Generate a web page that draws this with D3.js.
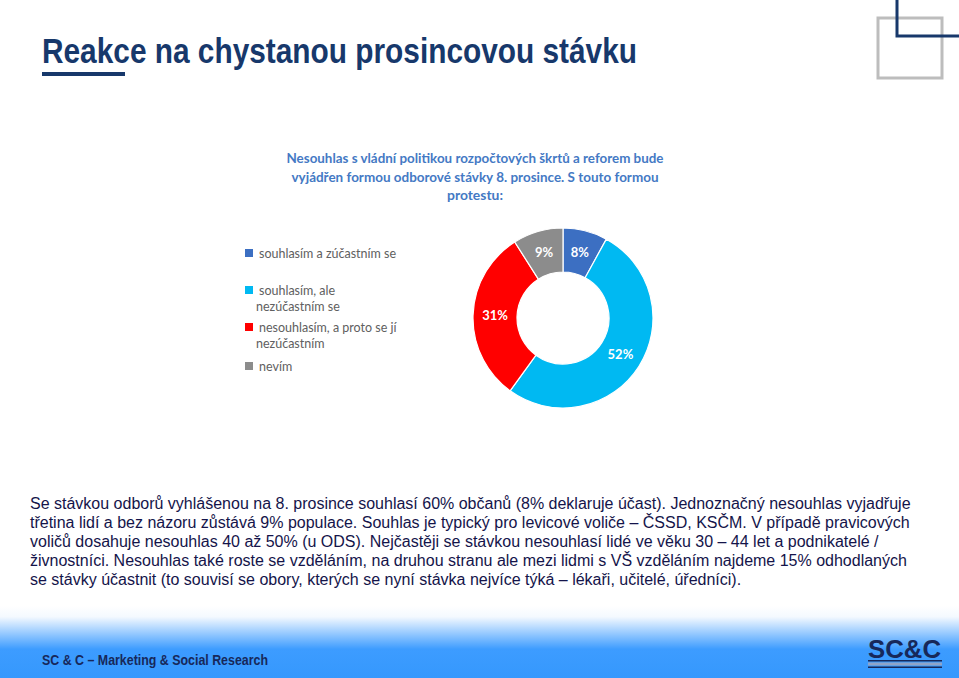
<!DOCTYPE html>
<html>
<head>
<meta charset="utf-8">
<script src="https://cdn.jsdelivr.net/npm/d3@7"></script>
<style>
  body { margin: 0; background: #fff; }
  svg { display: block; }
</style>
</head>
<body>
<svg id="slide"></svg>
<script>
var categories = ["souhlasím a zúčastním se", "souhlasím, ale nezúčastním se", "nesouhlasím, a proto se jí nezúčastním", "nevím"];
var legendLines = [["souhlasím a zúčastním se"], ["souhlasím, ale", "nezúčastním se"], ["nesouhlasím, a proto se jí", "nezúčastním"], ["nevím"]];
var values = [8, 52, 31, 9];
var palette = ["#3c6fc2", "#00b9f2", "#ff0000", "#8c8c8c"];
var chartTitle = ["Nesouhlas s vládní politikou rozpočtových škrtů a reforem bude", "vyjádřen formou odborové stávky 8. prosince. S touto formou", "protestu:"];
var bodyText = [
  "Se stávkou odborů vyhlášenou na 8. prosince souhlasí 60% občanů (8% deklaruje účast). Jednoznačný nesouhlas vyjadřuje",
  "třetina lidí a bez názoru zůstává 9% populace. Souhlas je typický pro levicové voliče – ČSSD, KSČM. V případě pravicových",
  "voličů dosahuje nesouhlas 40 až 50% (u ODS). Nejčastěji se stávkou nesouhlasí lidé ve věku 30 – 44 let a podnikatelé /",
  "živnostníci. Nesouhlas také roste se vzděláním, na druhou stranu ale mezi lidmi s VŠ vzděláním najdeme 15% odhodlaných",
  "se stávky účastnit (to souvisí se obory, kterých se nyní stávka nejvíce týká – lékaři, učitelé, úředníci)."
];

var width = 959, height = 678;
var svg = d3.select("#slide").attr("width", width).attr("height", height);

var defs = svg.append("defs");
var grad = defs.append("linearGradient").attr("id", "foot").attr("x1", 0).attr("y1", 0).attr("x2", 0).attr("y2", 1);
grad.append("stop").attr("offset", "0%").attr("stop-color", "#ffffff");
grad.append("stop").attr("offset", "15%").attr("stop-color", "#f4f9ff");
grad.append("stop").attr("offset", "60%").attr("stop-color", "#3d9cff");
grad.append("stop").attr("offset", "100%").attr("stop-color", "#3598fd");

// footer band
svg.append("rect").attr("x", 0).attr("y", 606).attr("width", width).attr("height", 72).attr("fill", "url(#foot)");

// top-right decoration
svg.append("rect").attr("x", 878).attr("y", 18).attr("width", 64).attr("height", 60)
   .attr("fill", "none").attr("stroke", "#bdbdbd").attr("stroke-width", 3);
svg.append("path").attr("d", "M897,0 V36 H959")
   .attr("fill", "none").attr("stroke", "#17386b").attr("stroke-width", 3);

// slide title
svg.append("text").attr("x", 42).attr("y", 63)
   .attr("font-family", "'Liberation Sans Narrow', 'Arial Narrow', 'Liberation Sans', sans-serif")
   .attr("font-weight", "bold").attr("font-size", 35).attr("fill", "#17386b")
   .attr("textLength", 595).attr("lengthAdjust", "spacingAndGlyphs")
   .text("Reakce na chystanou prosincovou stávku");
svg.append("rect").attr("x", 42).attr("y", 72).attr("width", 83).attr("height", 4).attr("fill", "#17386b");

// chart title
var titleWidths = [377, 367, 56];
svg.append("g").selectAll("text").data(chartTitle).enter().append("text")
   .attr("x", 475).attr("y", function(d, i) { return 163 + i * 18.5; })
   .attr("text-anchor", "middle")
   .attr("font-family", "Lato, 'Open Sans', sans-serif").attr("font-weight", "bold")
   .attr("font-size", 13.5).attr("fill", "#4479c4")
   .attr("textLength", function(d, i) { return titleWidths[i]; })
   .attr("lengthAdjust", "spacingAndGlyphs")
   .text(function(d) { return d; });

// donut
var cx = 563, cy = 318, outerR = 90, innerR = 46;
var color = d3.scaleOrdinal().domain(categories).range(palette);
var pie = d3.pie().sort(null).value(function(d) { return d.value; });
var arc = d3.arc().innerRadius(innerR).outerRadius(outerR);
var labelArc = d3.arc().innerRadius(68).outerRadius(68);
var slices = categories.map(function(c, i) { return { cat: c, value: values[i] }; });

var donut = svg.append("g").attr("transform", "translate(" + cx + "," + cy + ")");
donut.selectAll("path").data(pie(slices)).enter().append("path")
   .attr("d", arc)
   .attr("fill", function(d) { return color(d.data.cat); })
   .attr("stroke", "#ffffff").attr("stroke-width", 1.2);
donut.selectAll("text").data(pie(slices)).enter().append("text")
   .attr("transform", function(d) { return "translate(" + labelArc.centroid(d) + ")"; })
   .attr("dy", "0.35em").attr("text-anchor", "middle")
   .attr("font-family", "Lato, 'Open Sans', sans-serif").attr("font-weight", "bold")
   .attr("font-size", 13).attr("fill", "#ffffff")
   .text(function(d) { return d.data.value + "%"; });

// legend
var legendTop = [254, 291, 328, 367];
var legend = svg.append("g").selectAll("g").data(categories).enter().append("g");
legend.append("rect")
   .attr("x", 245).attr("y", function(d, i) { return legendTop[i] - 5; })
   .attr("width", 8).attr("height", 8)
   .attr("fill", function(d) { return color(d); });
legend.each(function(d, i) {
  d3.select(this).selectAll("text").data(legendLines[i]).enter().append("text")
     .attr("x", function(t, j) { return j === 0 ? 259 : 256; })
     .attr("y", function(t, j) { return legendTop[i] + 4 + j * 16; })
     .attr("font-family", "Lato, 'Open Sans', sans-serif")
     .attr("font-size", 12.5).attr("fill", "#606060")
     .text(function(t) { return t; });
});

// body text
svg.append("g").selectAll("text").data(bodyText).enter().append("text")
   .attr("x", 30).attr("y", function(d, i) { return 509 + i * 19; })
   .attr("font-family", "'Liberation Sans', Arial, sans-serif")
   .attr("font-size", 16).attr("fill", "#14144a")
   .text(function(d) { return d; });

// footer text
svg.append("text").attr("x", 42).attr("y", 665)
   .attr("font-family", "'Liberation Sans Narrow', 'Arial Narrow', 'Liberation Sans', sans-serif")
   .attr("font-weight", "bold").attr("font-size", 14.5).attr("fill", "#17285a")
   .attr("textLength", 226).attr("lengthAdjust", "spacingAndGlyphs")
   .text("SC & C – Marketing & Social  Research");

// logo
var logo = svg.append("g");
logo.append("text").attr("x", 868).attr("y", 658)
   .attr("font-family", "'Liberation Sans', Arial, sans-serif").attr("font-weight", "bold")
   .attr("font-size", 25).attr("fill", "#17285a")
   .attr("textLength", 73).attr("lengthAdjust", "spacingAndGlyphs")
   .text("SC&C");
logo.append("rect").attr("x", 868).attr("y", 660).attr("width", 74).attr("height", 1.5).attr("fill", "#17285a");
logo.append("rect").attr("x", 868).attr("y", 662.5).attr("width", 74).attr("height", 3).attr("fill", "#8fa3c8");
logo.append("rect").attr("x", 868).attr("y", 666.5).attr("width", 74).attr("height", 1.5).attr("fill", "#17285a");
</script>
</body>
</html>
